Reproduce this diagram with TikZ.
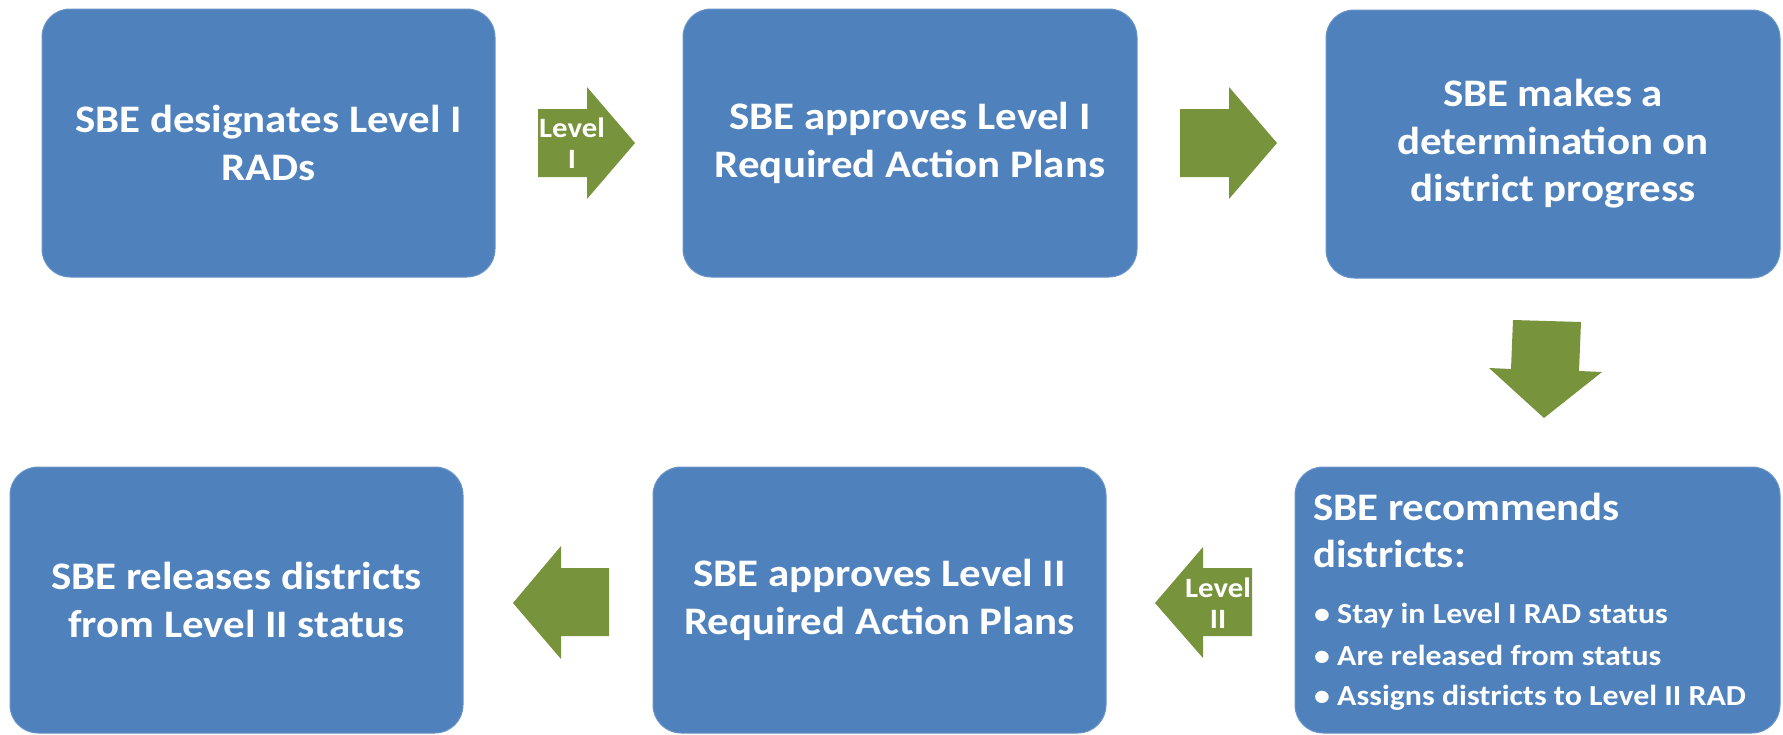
\documentclass[tikz,border=0pt]{standalone}
\usepackage{fontspec}
\setmainfont{Carlito}[FakeStretch=1.1]
\definecolor{boxblue}{RGB}{79,129,189}
\definecolor{arrgreen}{RGB}{119,147,60}
\begin{document}
\begin{tikzpicture}[x=1pt,y=-1pt,
  box/.style={rounded corners=28pt, fill=boxblue, draw=boxblue!85!white, line width=1pt,
    text=white, font=\fontsize{39}{47.5}\selectfont\bfseries, align=center, inner sep=0pt,
    minimum width=453pt, minimum height=268pt},
  blockarrow/.style={fill=arrgreen},
  lbl/.style={text=white, font=\fontsize{28}{31}\selectfont\bfseries, align=center, inner sep=0pt},
  ttl/.style={text=white, font=\fontsize{39}{47.5}\selectfont\bfseries, anchor=base west, inner sep=0pt},
  bul/.style={text=white, font=\fontsize{29}{34}\selectfont\bfseries, anchor=base west, inner sep=0pt}]
\useasboundingbox (0,0) rectangle (1783,734);

% boxes
\node[box] (b1) at (268.5,143) {SBE designates Level I\\RADs};
\node[box, minimum width=454pt] (b2) at (910,143) {SBE approves Level I\\Required Action Plans};
\node[box, minimum width=454pt] (b3) at (1553,144) {SBE makes a\\determination on\\district progress};
\node[box, minimum width=485pt, minimum height=266pt] (b4) at (1537.5,600) {};
\node[box, minimum height=266pt] (b5) at (879.5,600) {SBE approves Level II\\Required Action Plans};
\node[box, minimum height=266pt] (b6) at (236.5,600) {SBE releases districts\\from Level II status};

% text of box 4
\node[ttl] (t4a) at (1313,520) {SBE recommends};
\node[ttl] (t4b) at (1313,567) {districts:};
\node[bul] (d1) at (1314,623) {•};
\node[bul] (s1) at (1337,623) {Stay in Level I RAD status};
\node[bul] (d2) at (1314,665) {•};
\node[bul] (s2) at (1337,665) {Are released from status};
\node[bul] (d3) at (1314,705) {•};
\node[bul] (s3) at (1337,705) {Assigns districts to Level II RAD};

% block arrows
\fill[blockarrow] (538,109) -- (587,109) -- (587,87) -- (635,143) -- (587,199) -- (587,177) -- (538,177) -- cycle;
\node[lbl] (l1) at (572,143) {Level\\I};
\fill[blockarrow] (1180,109) -- (1229,109) -- (1229,87) -- (1277,143) -- (1229,199) -- (1229,177) -- (1180,177) -- cycle;
\fill[blockarrow] (1513,320) -- (1581,322) -- (1579,371) -- (1602,372) -- (1544,418) -- (1489,368) -- (1511,369) -- cycle;
\fill[blockarrow] (1252,568) -- (1203,568) -- (1203,547) -- (1155,603) -- (1203,658) -- (1203,636) -- (1252,636) -- cycle;
\node[lbl] (l2) at (1218,603) {Level\\II};
\fill[blockarrow] (609,568) -- (561,568) -- (561,546) -- (513,603) -- (561,659) -- (561,636) -- (609,636) -- cycle;
\end{tikzpicture}
\end{document}
